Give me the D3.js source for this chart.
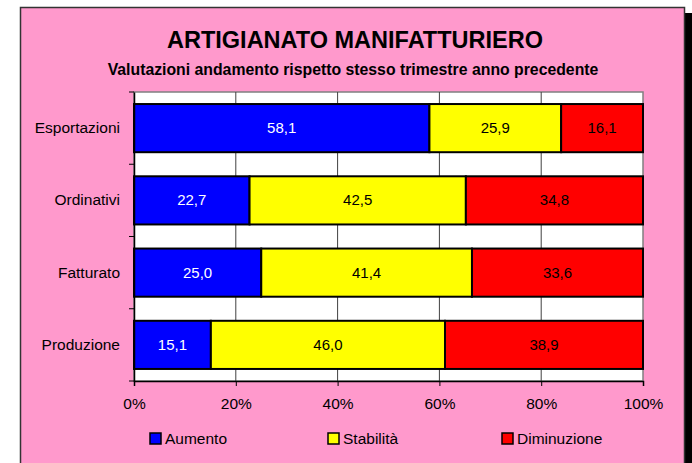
<!DOCTYPE html>
<html>
<head>
<meta charset="utf-8">
<script src="https://cdn.jsdelivr.net/npm/d3@7"></script>
<style>
  body { margin: 0; background: #fff; }
  text { font-family: Arial, "Liberation Sans", sans-serif; }
</style>
</head>
<body>
<div id="chart"></div>
<script>
// dati
const categories = ["Esportazioni", "Ordinativi", "Fatturato", "Produzione"];
const aumento = [58.1, 22.7, 25.0, 15.1];
const stabilita = [25.9, 42.5, 41.4, 46.0];
const diminuzione = [16.1, 34.8, 33.6, 38.9];
const seriesNames = ["Aumento", "Stabilità", "Diminuzione"];
const seriesColors = ["#0000FF", "#FFFF00", "#FF0000"];
const labelColors = ["#fff", "#000", "#000"];
const tickValues = [0, 20, 40, 60, 80, 100];

const width = 692, height = 463;
const plot = { left: 134, right: 643, top: 92, bottom: 381 };

const svg = d3.select("#chart").append("svg")
  .attr("width", width)
  .attr("height", height);

// cornice con ombra
svg.append("rect")
  .attr("x", 26).attr("y", 13)
  .attr("width", 666).attr("height", 470)
  .attr("fill", "#000");
svg.append("rect")
  .attr("x", 20.5).attr("y", 7.5)
  .attr("width", 664).attr("height", 470)
  .attr("fill", "#FF99CC")
  .attr("stroke", "#333")
  .attr("stroke-width", 1.5);

// titoli
svg.append("text")
  .attr("x", 355).attr("y", 48)
  .attr("text-anchor", "middle")
  .attr("font-size", 23.5)
  .attr("font-weight", "bold")
  .text("ARTIGIANATO MANIFATTURIERO");
svg.append("text")
  .attr("x", 353).attr("y", 75)
  .attr("text-anchor", "middle")
  .attr("font-size", 15.8)
  .attr("font-weight", "bold")
  .text("Valutazioni andamento rispetto stesso trimestre anno precedente");

const x = d3.scaleLinear()
  .domain([0, 100])
  .range([plot.left, plot.right]);

const y = d3.scaleBand()
  .domain(categories)
  .range([plot.top, plot.bottom])
  .paddingInner(1 / 3)
  .paddingOuter(1 / 6);

// area del grafico
svg.append("rect")
  .attr("x", plot.left).attr("y", plot.top)
  .attr("width", plot.right - plot.left)
  .attr("height", plot.bottom - plot.top)
  .attr("fill", "#fff")
  .attr("stroke", "#808080")
  .attr("stroke-width", 1.5);

// griglia
svg.append("g")
  .selectAll("line")
  .data(tickValues.slice(1, -1))
  .join("line")
  .attr("x1", d => x(d)).attr("x2", d => x(d))
  .attr("y1", plot.top).attr("y2", plot.bottom)
  .attr("stroke", "#404040")
  .attr("stroke-width", 1);

// serie impilate
const rows = categories.map((c, i) => ({
  cat: c,
  vals: [aumento[i], stabilita[i], diminuzione[i]]
}));

const segs = [];
rows.forEach(r => {
  let acc = 0;
  r.vals.forEach((v, k) => {
    segs.push({ cat: r.cat, k: k, x0: acc, x1: acc + v, v: v });
    acc += v;
  });
});

// normalizza al 100%
const totals = {};
rows.forEach(r => { totals[r.cat] = d3.sum(r.vals); });

svg.append("g")
  .selectAll("rect")
  .data(segs)
  .join("rect")
  .attr("x", d => x(d.x0 / totals[d.cat] * 100))
  .attr("width", d => x(d.x1 / totals[d.cat] * 100) - x(d.x0 / totals[d.cat] * 100))
  .attr("y", d => y(d.cat))
  .attr("height", y.bandwidth())
  .attr("fill", d => seriesColors[d.k])
  .attr("stroke", "#000")
  .attr("stroke-width", 2);

const fmt = d3.format(".1f");
svg.append("g")
  .selectAll("text")
  .data(segs)
  .join("text")
  .attr("x", d => x((d.x0 + d.x1) / 2 / totals[d.cat] * 100))
  .attr("y", d => y(d.cat) + y.bandwidth() / 2 + 5)
  .attr("text-anchor", "middle")
  .attr("font-size", 15)
  .attr("fill", d => labelColors[d.k])
  .text(d => fmt(d.v).replace(".", ","));

// asse X
const xAxis = svg.append("g")
  .attr("transform", `translate(0,${plot.bottom})`)
  .call(d3.axisBottom(x)
    .tickValues(tickValues)
    .tickSize(5)
    .tickPadding(12)
    .tickFormat(d => d + "%"));
xAxis.select(".domain").attr("stroke", "#000").attr("stroke-width", 1.5);
xAxis.selectAll(".tick line").attr("stroke", "#000");
xAxis.selectAll("text")
  .attr("font-size", 15.5)
  .attr("font-family", "Arial, 'Liberation Sans', sans-serif")
  .attr("fill", "#000");

// asse Y
const yAxis = svg.append("g")
  .attr("transform", `translate(${plot.left},0)`)
  .call(d3.axisLeft(y).tickSize(0).tickPadding(14));
yAxis.select(".domain").attr("stroke", "#000").attr("stroke-width", 1.5);
yAxis.selectAll("text")
  .attr("font-size", 15.5)
  .attr("font-family", "Arial, 'Liberation Sans', sans-serif")
  .attr("fill", "#000");

// tacche tra le categorie
const step = y.step();
svg.append("g")
  .selectAll("line")
  .data(d3.range(categories.length + 1))
  .join("line")
  .attr("x1", plot.left - 5).attr("x2", plot.left)
  .attr("y1", i => plot.top + i * step)
  .attr("y2", i => plot.top + i * step)
  .attr("stroke", "#000");

// legenda
const legendX = [150, 328, 502];
const legend = svg.append("g")
  .selectAll("g")
  .data(seriesNames)
  .join("g")
  .attr("transform", (d, i) => `translate(${legendX[i]},433)`);
legend.append("rect")
  .attr("width", 11).attr("height", 11)
  .attr("fill", (d, i) => seriesColors[i])
  .attr("stroke", "#000")
  .attr("stroke-width", 1.5);
legend.append("text")
  .attr("x", 15).attr("y", 11)
  .attr("font-size", 15.5)
  .text(d => d);
</script>
</body>
</html>
